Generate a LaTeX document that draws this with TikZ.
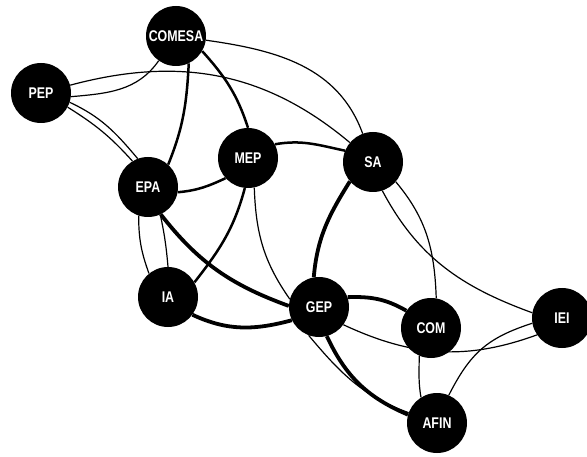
\documentclass[tikz,border=0pt]{standalone}
\usepackage{fontspec}
\newfontfamily\nodefont[FakeStretch=0.8]{Liberation Sans}
\usetikzlibrary{backgrounds}
\begin{document}
\begin{tikzpicture}[x=1pt,y=1pt,
  hub/.style={circle, fill=black, minimum size=60pt, inner sep=0pt, text=white,
    font=\nodefont\bfseries\fontsize{15.5}{15.5}\selectfont},
  thinedge/.style={line width=1.2pt},
  midedge/.style={line width=2.5pt},
  thickedge/.style={line width=3.8pt}]
\useasboundingbox (0,0) rectangle (587,456);
\node[hub] (COMESA) at (176,420) {COMESA};
\node[hub] (PEP) at (41,363) {PEP};
\node[hub] (EPA) at (148,269) {EPA};
\node[hub] (MEP) at (248,298) {MEP};
\node[hub] (SA) at (373,294) {SA};
\node[hub] (IA) at (168,159) {IA};
\node[hub] (GEP) at (319,149) {GEP};
\node[hub] (COM) at (431,128) {COM};
\node[hub] (IEI) at (562,138) {IEI};
\node[hub] (AFIN) at (437,33) {AFIN};
\begin{scope}[on background layer]
% thin connectors
\draw[thinedge] (COMESA.-8) to[out=-8,in=110] (SA.110);
\draw[thinedge] (PEP.15) to[out=15,in=140] (SA.140);
\draw[thinedge] (PEP.-7) to[out=5,in=235] (COMESA.235);
\draw[thinedge] (PEP.-18) to[out=-25,in=130] (EPA.110);
\draw[thinedge] (PEP.-28) to[out=-32,in=132] (EPA.121);
\draw[thinedge] (EPA.-108) to[out=-90,in=110] (IA.129);
\draw[thinedge] (EPA.-66) to[out=-78,in=95] (IA.90);
\draw[thinedge] (MEP.-78) to[out=-88,in=125] (GEP.165);
\draw[thinedge] (SA.-41) to[out=-50,in=92] (COM.80);
\draw[thinedge] (SA.-72) to[out=-62,in=160] (IEI.170);
\draw[thinedge] (GEP.-36) to[out=-25,in=200] (IEI.214);
\draw[thinedge] (IEI.190) to[out=198,in=63,looseness=1.1] (AFIN.67);
\draw[thinedge] (COM.-113) to[out=-90,in=100] (AFIN.122);
\draw[thinedge] (GEP.-110) to[out=-50,in=160] (AFIN.160);
% medium connectors
\draw[midedge] (COMESA.-65) to[out=-93,in=68] (EPA.48);
\draw[midedge] (COMESA.-30) to[out=-48,in=108] (MEP.90);
\draw[midedge] (EPA.-10) to[out=5,in=205] (MEP.222);
\draw[midedge] (MEP.27) to[out=10,in=168] (SA.158);
\draw[midedge] (MEP.-96) to[out=-105,in=52] (IA.29);
% thick connectors
\draw[thickedge] (EPA.-65) to[out=-52,in=160] (GEP.178);
\draw[thickedge] (IA.-36) to[out=-25,in=195] (GEP.206);
\draw[thickedge] (SA.220) to[out=238,in=85] (GEP.100);
\draw[thickedge] (GEP.19) to[out=2,in=150] (COM.145);
\draw[thickedge] (GEP.-75) to[out=-65,in=157] (AFIN.164);
\end{scope}
\end{tikzpicture}
\end{document}
